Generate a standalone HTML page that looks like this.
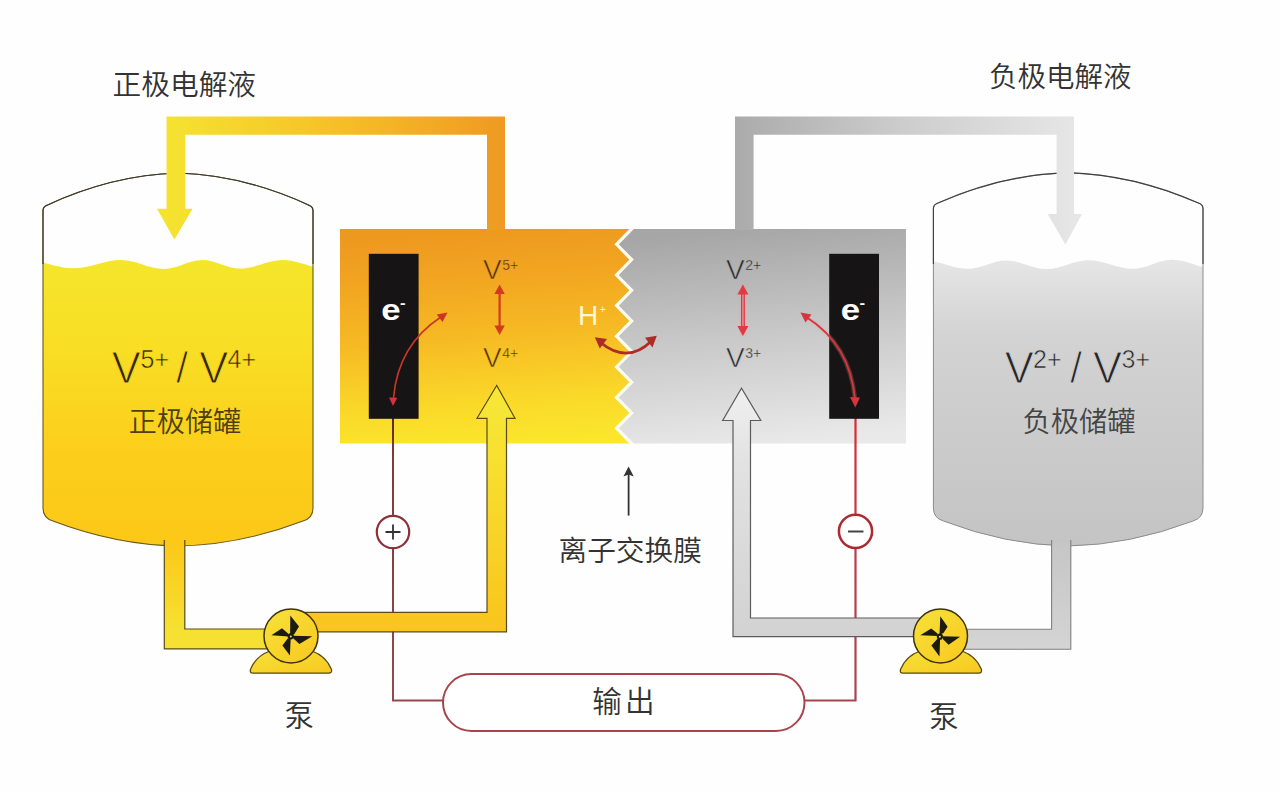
<!DOCTYPE html>
<html lang="zh">
<head>
<meta charset="utf-8">
<title>全钒液流电池原理</title>
<style>
html,body{margin:0;padding:0;background:#fff;}
body{width:1280px;height:792px;overflow:hidden;}
svg{display:block;}
.cn{font-family:"Liberation Sans","Noto Sans CJK SC",sans-serif;font-weight:350;}
.la{font-family:"Liberation Sans","Noto Sans CJK SC",sans-serif;}
</style>
</head>
<body>
<svg width="1280" height="792" viewBox="0 0 1280 792">
<defs>
  <linearGradient id="gCellL" x1="0.43" y1="0" x2="0.53" y2="1">
    <stop offset="0" stop-color="#ED981F"/>
    <stop offset="0.22" stop-color="#F2A521"/>
    <stop offset="0.5" stop-color="#F6BA24"/>
    <stop offset="0.8" stop-color="#FAD829"/>
    <stop offset="1" stop-color="#FBE62C"/>
  </linearGradient>
  <linearGradient id="gCellR" x1="0.42" y1="0" x2="0.56" y2="1">
    <stop offset="0" stop-color="#A6A6A6"/>
    <stop offset="0.5" stop-color="#C9C9C9"/>
    <stop offset="1" stop-color="#E9E9E9"/>
  </linearGradient>
  <linearGradient id="gTankL" x1="0" y1="0" x2="0" y2="1">
    <stop offset="0" stop-color="#F5E62B"/>
    <stop offset="0.3" stop-color="#F8DE25"/>
    <stop offset="0.65" stop-color="#FCCE1B"/>
    <stop offset="1" stop-color="#FCC718"/>
  </linearGradient>
  <linearGradient id="gTankR" x1="0" y1="0" x2="0" y2="1">
    <stop offset="0" stop-color="#E6E6E6"/>
    <stop offset="0.1" stop-color="#DEDEDE"/>
    <stop offset="0.25" stop-color="#D3D3D3"/>
    <stop offset="0.55" stop-color="#CCCCCC"/>
    <stop offset="1" stop-color="#C3C3C3"/>
  </linearGradient>
  <linearGradient id="gPipeTopL" gradientUnits="userSpaceOnUse" x1="166" y1="0" x2="505" y2="0">
    <stop offset="0" stop-color="#F5E330"/>
    <stop offset="0.45" stop-color="#F6C427"/>
    <stop offset="1" stop-color="#EF9A22"/>
  </linearGradient>
  <linearGradient id="gPipeTopR" gradientUnits="userSpaceOnUse" x1="735" y1="0" x2="1074" y2="0">
    <stop offset="0" stop-color="#ABABAB"/>
    <stop offset="0.5" stop-color="#CDCDCD"/>
    <stop offset="1" stop-color="#E6E6E6"/>
  </linearGradient>
  <linearGradient id="gPipeBotL" gradientUnits="userSpaceOnUse" x1="0" y1="543" x2="0" y2="649">
    <stop offset="0" stop-color="#FCC819"/>
    <stop offset="0.8" stop-color="#F6E031"/>
    <stop offset="1" stop-color="#F6E031"/>
  </linearGradient>
  <linearGradient id="gPipeBotL2" gradientUnits="userSpaceOnUse" x1="0" y1="385" x2="0" y2="632">
    <stop offset="0" stop-color="#F6E838"/>
    <stop offset="0.3" stop-color="#F7E030"/>
    <stop offset="0.6" stop-color="#F8D428"/>
    <stop offset="0.87" stop-color="#F9C920"/>
    <stop offset="1" stop-color="#F9C41E"/>
  </linearGradient>
  <linearGradient id="gPipeBotR" gradientUnits="userSpaceOnUse" x1="0" y1="543" x2="0" y2="649">
    <stop offset="0" stop-color="#C6C6C6"/>
    <stop offset="1" stop-color="#D4D4D4"/>
  </linearGradient>
  <linearGradient id="gPipeBotR2" gradientUnits="userSpaceOnUse" x1="0" y1="388" x2="0" y2="637">
    <stop offset="0" stop-color="#F0F0F0"/>
    <stop offset="0.3" stop-color="#E2E2E2"/>
    <stop offset="1" stop-color="#D2D2D2"/>
  </linearGradient>
  <linearGradient id="gPump" x1="0" y1="0" x2="1" y2="1">
    <stop offset="0" stop-color="#F6E23A"/>
    <stop offset="1" stop-color="#F9C81E"/>
  </linearGradient>
  <clipPath id="clipTankL"><path id="tankLPath" d="M43,210.5 Q43,207 46.5,205.4 Q112,175 178,173 Q244,175 309.5,205.4 Q313,207 313,210.5 L313,508 Q313,518 303,521 Q240,545 178,546 Q116,545 53,521 Q43,518 43,508 Z"/></clipPath>
  <clipPath id="clipTankR"><path id="tankRPath" d="M933.4,208.5 Q933.4,205 936.8,203.5 Q1002,174.5 1068,172.6 Q1134,174.5 1199.6,203.5 Q1203,205 1203,208.5 L1203,508 Q1203,518 1193,521 Q1130,545 1068,546 Q1006,545 943.4,521 Q933.4,518 933.4,508 Z"/></clipPath>
  <clipPath id="clipTopL"><rect x="30" y="160" width="300" height="104"/></clipPath>
  <clipPath id="clipTopR"><rect x="920" y="160" width="300" height="104"/></clipPath>
  <clipPath id="clipCell"><rect x="600" y="228" width="50" height="217"/></clipPath>
  <linearGradient id="gWireR" gradientUnits="userSpaceOnUse" x1="0" y1="418" x2="0" y2="702">
    <stop offset="0" stop-color="#D62C36"/>
    <stop offset="0.45" stop-color="#C23A44"/>
    <stop offset="1" stop-color="#A4464E"/>
  </linearGradient>
  <linearGradient id="gWireL" gradientUnits="userSpaceOnUse" x1="0" y1="418" x2="0" y2="702">
    <stop offset="0" stop-color="#5A2A22"/>
    <stop offset="0.12" stop-color="#83383A"/>
    <stop offset="1" stop-color="#96484E"/>
  </linearGradient>
</defs>

<rect x="0" y="0" width="1280" height="792" fill="#FEFEFE"/>

<!-- ===== left tank ===== -->
<g clip-path="url(#clipTankL)">
  <path d="M25.0,260.0 C42.5,260.0 55.5,268.3 73.0,268.3 C90.5,268.3 103.5,260.0 121.0,260.0 C136.7,260.0 148.3,269.0 164.0,269.0 C177.8,269.0 188.2,260.0 202.0,260.0 C215.8,260.0 226.2,268.5 240.0,268.5 C255.7,268.5 267.3,260.0 283.0,260.0 C298.7,260.0 310.3,268.5 326.0,268.5 L326,560 L25,560 Z" fill="url(#gTankL)"/>
</g>
<use href="#tankLPath" fill="none" stroke="#6a5815" stroke-width="1.1"/>
<g clip-path="url(#clipTopL)"><use href="#tankLPath" fill="none" stroke="#3a3833" stroke-width="1.15"/></g>

<!-- ===== right tank ===== -->
<g clip-path="url(#clipTankR)">
  <path d="M925.0,260.5 C940.7,260.5 952.3,268.8 968.0,268.8 C981.8,268.8 992.2,260.5 1006.0,260.5 C1020.8,260.5 1031.7,269.0 1046.5,269.0 C1061.6,269.0 1072.9,260.2 1088.0,260.2 C1104.6,260.2 1117.0,268.8 1133.6,268.8 C1147.4,268.8 1157.7,259.8 1171.5,259.8 C1187.3,259.8 1199.2,268.5 1215.0,268.5 L1215,560 L925,560 Z" fill="url(#gTankR)"/>
</g>
<use href="#tankRPath" fill="none" stroke="#8c8c8c" stroke-width="1"/>
<g clip-path="url(#clipTopR)"><use href="#tankRPath" fill="none" stroke="#404040" stroke-width="1.15"/></g>

<!-- ===== cell ===== -->
<rect x="340" y="229" width="292" height="214.5" fill="url(#gCellL)"/>
<path d="M631.6,229.0 L616.6,244.3 L631.6,259.6 L616.6,275.0 L631.6,290.3 L616.6,305.6 L631.6,320.9 L616.6,336.2 L631.6,351.6 L616.6,366.9 L631.6,382.2 L616.6,397.5 L631.6,412.9 L616.6,428.2 L631.6,443.5 L906,443.5 L906,229 Z" fill="url(#gCellR)"/>
<g clip-path="url(#clipCell)"><path d="M633.4,227.2 L616.6,244.3 L631.6,259.6 L616.6,275.0 L631.6,290.3 L616.6,305.6 L631.6,320.9 L616.6,336.2 L631.6,351.6 L616.6,366.9 L631.6,382.2 L616.6,397.5 L631.6,412.9 L616.6,428.2 L633.4,445.3" fill="none" stroke="#FFFDF4" stroke-width="3.2" stroke-linejoin="miter"/></g>

<!-- ===== top pipes ===== -->
<path d="M487,230 L487,134.7 L185.3,134.7 L185.3,208.7 L192.5,208.7 L174.4,239.5 L157,208.7 L166.5,208.7 L166.5,116.5 L505,116.5 L505,230 Z" fill="url(#gPipeTopL)"/>
<path d="M753.6,230 L753.6,134.7 L1056.6,134.7 L1056.6,214 L1047.7,214 L1065.4,244.5 L1082,214 L1074,214 L1074,116.5 L735,116.5 L735,230 Z" fill="url(#gPipeTopR)"/>

<!-- ===== wires ===== -->
<path d="M393,418 L393,700.5 L443,700.5" fill="none" stroke="url(#gWireL)" stroke-width="2"/>
<path d="M855.5,418 L855.5,700.5 L805,700.5" fill="none" stroke="url(#gWireR)" stroke-width="2.2"/>

<!-- ===== bottom pipes left ===== -->
<path d="M164.3,543 L164.3,648.8 L280,648.8 L280,629 L184.8,629 L184.8,543 Z" fill="url(#gPipeBotL)"/>
<path d="M164.3,540 L164.3,648.8 L280,648.8 M280,629 L184.8,629 L184.8,540" fill="none" stroke="#5a4b14" stroke-width="1.2"/>
<path d="M300,612.3 L487,612.3 L487,418.3 L477,418.3 L496.7,385.4 L515,418.3 L506.5,418.3 L506.5,631.8 L300,631.8 Z" fill="url(#gPipeBotL2)" stroke="#5a4b14" stroke-width="1.2"/>

<!-- ===== bottom pipes right ===== -->
<path d="M930,618 L750.5,618 L750.5,420.5 L760.8,420.5 L741.5,388.3 L722.7,420.5 L733,420.5 L733,636.7 L930,636.7 Z" fill="url(#gPipeBotR2)" stroke="#5c5c5c" stroke-width="1.2"/>
<path d="M1051.6,543 L1051.6,629.2 L950,629.2 L950,649.3 L1070.8,649.3 L1070.8,543 Z" fill="url(#gPipeBotR)"/>
<path d="M1051.6,540 L1051.6,629.2 L950,629.2 M950,649.3 L1070.8,649.3 L1070.8,540" fill="none" stroke="#808080" stroke-width="1.1"/>

<!-- ===== pumps ===== -->
<g id="pumpL">
  <path d="M253,673.2 Q249.3,673.2 250.6,669.2 Q256,656 270,651 L312,651 Q326,656 331.4,669.2 Q332.4,673.2 328.5,673.2 Z" fill="url(#gPump)" stroke="#5a4b14" stroke-width="1.3"/>
  <circle cx="291" cy="636" r="27" fill="url(#gPump)" stroke="#3e330e" stroke-width="1.5"/>
  <g fill="#1d1a12">
    <path d="M290.3,615.5 L299.0,626.4 L294.1,634.4 L290.1,634.8 Z"/>
    <path d="M312.3,636.3 L299.4,643.9 L293.4,638.5 L292.6,635.8 Z"/>
    <path d="M289.9,655.6 L282.4,645.4 L287.7,638.6 L290.7,638.6 Z"/>
    <path d="M271.4,635.2 L282.0,628.3 L288.0,633.6 L288.8,636.6 Z"/>
    <circle cx="290.7" cy="636.3" r="3.1"/>
  </g>
  <circle cx="290.8" cy="636.4" r="1" fill="#e8d9a0"/>
</g>
<g id="pumpR">
  <path d="M903,673.2 Q899.3,673.2 900.6,669.2 Q906,656 920,651 L962,651 Q976,656 981.4,669.2 Q982.4,673.2 978.5,673.2 Z" fill="url(#gPump)" stroke="#5a4b14" stroke-width="1.3"/>
  <circle cx="940.5" cy="636" r="27" fill="url(#gPump)" stroke="#3e330e" stroke-width="1.5"/>
  <g fill="#1d1a12">
    <path d="M940.3,616.2 L947.6,626.8 L943.3,633.3 L939.5,634.4 Z"/>
    <path d="M960.1,636.7 L948.6,644.7 L943.3,639.4 L942.2,636.2 Z"/>
    <path d="M939.5,656.4 L931.4,645.4 L937.2,639.0 L940.1,639.0 Z"/>
    <path d="M920.3,635.2 L931.2,628.4 L937.2,633.3 L938.0,636.1 Z"/>
    <circle cx="939.9" cy="636.7" r="3.1"/>
  </g>
  <circle cx="939.9" cy="636.7" r="1" fill="#e8d9a0"/>
</g>

<!-- ===== electrodes ===== -->
<rect x="368.8" y="253.8" width="49.8" height="165" fill="#161414"/>
<rect x="829.2" y="253.8" width="49.8" height="165" fill="#161414"/>
<text class="la" transform="translate(381.3,319.6) scale(1.2,1)" font-size="29" font-weight="bold" fill="#fff">e<tspan font-size="14" dy="-11.5" dx="-0.5">-</tspan></text>
<text class="la" transform="translate(840.7,319.6) scale(1.2,1)" font-size="29" font-weight="bold" fill="#fff">e<tspan font-size="14" dy="-11.5" dx="-0.5">-</tspan></text>

<!-- wire terminals -->
<circle cx="393" cy="532" r="16.2" fill="#fff" stroke="#8E3038" stroke-width="2.2"/>
<path d="M385.5,532 H400.5 M393,524.5 V539.5" stroke="#333" stroke-width="1.8" fill="none"/>
<circle cx="855.5" cy="531.3" r="16.6" fill="#fff" stroke="#AE2A32" stroke-width="2.5"/>
<path d="M848,531.5 H863.5" stroke="#444" stroke-width="2" fill="none"/>

<!-- output pill -->
<rect x="443" y="674" width="361.5" height="57" rx="28.5" ry="28.5" fill="#fff" stroke="#A8444C" stroke-width="2"/>
<text class="cn" x="592.3" y="712.3" font-size="29.6" letter-spacing="3" fill="#333">输出</text>

<!-- ===== red arrows ===== -->
<g stroke="#D43A1E" fill="#D43A1E" stroke-width="2.2">
  <path d="M499.6,291 V329" fill="none"/>
  <path d="M499.6,284.5 L504.8,294 L494.4,294 Z" stroke="none"/>
  <path d="M499.6,335 L504.8,325.5 L494.4,325.5 Z" stroke="none"/>
</g>
<path d="M742.9,288 V333" fill="none" stroke="#F59A9A" stroke-opacity="0.35" stroke-width="7" stroke-linecap="round"/>
<path d="M855,399 Q850,345 807,317.5" fill="none" stroke="#F59A9A" stroke-opacity="0.22" stroke-width="4.5" stroke-linecap="round"/>
<g stroke="#E23A42" fill="#E23A42" stroke-width="2.6">
  <path d="M741.7,292 V328 M744.2,292 V328" fill="none" stroke-width="1.4"/>
  <path d="M742.9,284.5 L748.4,294.5 L737.4,294.5 Z" stroke="none"/>
  <path d="M742.9,336 L748.4,326 L737.4,326 Z" stroke="none"/>
</g>
<!-- curved electrode arrows -->
<path d="M393.5,398 Q398,345 441,317" fill="none" stroke="#C8362A" stroke-width="1.6"/>
<path d="M447.5,312.5 L442.5,322 L436.8,314.5 Z" fill="#C8362A"/>
<path d="M393,406 L389,397.5 L397.3,397.8 Z" fill="#D8303A"/>
<path d="M855,399 Q850,345 807,317.5" fill="none" stroke="#D8343C" stroke-width="2"/>
<path d="M800.5,312.5 L811.5,314.5 L805.5,322.5 Z" fill="#D8343C"/>
<path d="M855.3,407.5 L850,397 L860,397.5 Z" fill="#D8343C"/>
<!-- membrane arrow -->
<path d="M600.5,342.5 Q627.5,364.5 651.5,341" fill="none" stroke="#AE2C26" stroke-width="2.8"/>
<path d="M594.8,337.3 L607,339 L599.8,348.5 Z" fill="#AE2C26"/>
<path d="M656.8,335.8 L645,337.8 L652.5,347.5 Z" fill="#AE2C26"/>

<!-- membrane pointer -->
<path d="M628.6,470 V515.6" stroke="#333" stroke-width="1.8" fill="none"/>
<path d="M628.6,466.5 L633.8,476.5 L628.6,474.5 L623.4,476.5 Z" fill="#333"/>

<!-- ===== labels ===== -->
<text class="cn" x="112.6" y="95.4" font-size="28.7" fill="#333">正极电解液</text>
<text class="cn" x="989" y="87.3" font-size="28.5" fill="#333">负极电解液</text>
<text class="cn" x="558.5" y="561.3" font-size="28.7" fill="#333">离子交换膜</text>
<text class="cn" x="284.4" y="726.3" font-size="29.3" fill="#333">泵</text>
<text class="cn" x="929" y="726.5" font-size="29.5" fill="#333">泵</text>
<text class="cn" x="128.7" y="431.8" fill="#4f3f12" font-size="28.1">正极储罐</text>
<text class="cn" x="1022.4" y="431.9" fill="#444" font-size="28.3">负极储罐</text>

<text class="la" y="383.2" font-size="43.5" fill="#33280a" stroke="#F9DA22" stroke-width="1.05"><tspan x="111.7">V</tspan><tspan font-size="25" stroke-width="0.55" x="140.5" y="368.4">5+</tspan><tspan x="176" y="383.2">/</tspan><tspan x="199.3">V</tspan><tspan font-size="25" stroke-width="0.55" x="227.5" y="368.4">4+</tspan></text>
<text class="la" y="383.2" font-size="43.5" fill="#262626" stroke="#D1D1D1" stroke-width="1.05"><tspan x="1004.8">V</tspan><tspan font-size="25" stroke-width="0.55" x="1033" y="368.4">2+</tspan><tspan x="1070" y="383.2">/</tspan><tspan x="1093">V</tspan><tspan font-size="25" stroke-width="0.55" x="1121.5" y="368.4">3+</tspan></text>

<text class="la" x="483" y="279" font-size="28" fill="#4e3210" stroke="#F2A321" stroke-width="0.65">V<tspan font-size="14" stroke-width="0.3" dy="-9.5" dx="0.5">5+</tspan></text>
<text class="la" x="483" y="367" font-size="28" fill="#4e3210" stroke="#F7C426" stroke-width="0.65">V<tspan font-size="14" stroke-width="0.3" dy="-9.5" dx="0.5">4+</tspan></text>
<text class="la" x="726" y="279" font-size="28" fill="#2c2c2c" stroke="#B3B3B3" stroke-width="0.65">V<tspan font-size="14" stroke-width="0.3" dy="-9.5" dx="0.5">2+</tspan></text>
<text class="la" x="726" y="367" font-size="28" fill="#2c2c2c" stroke="#CECECE" stroke-width="0.65">V<tspan font-size="14" stroke-width="0.3" dy="-9.5" dx="0.5">3+</tspan></text>
<text class="la" x="578" y="324.7" font-size="28" fill="#FFF8D0">H<tspan font-size="10" dy="-11.5" dx="1.5">+</tspan></text>
</svg>
</body>
</html>
